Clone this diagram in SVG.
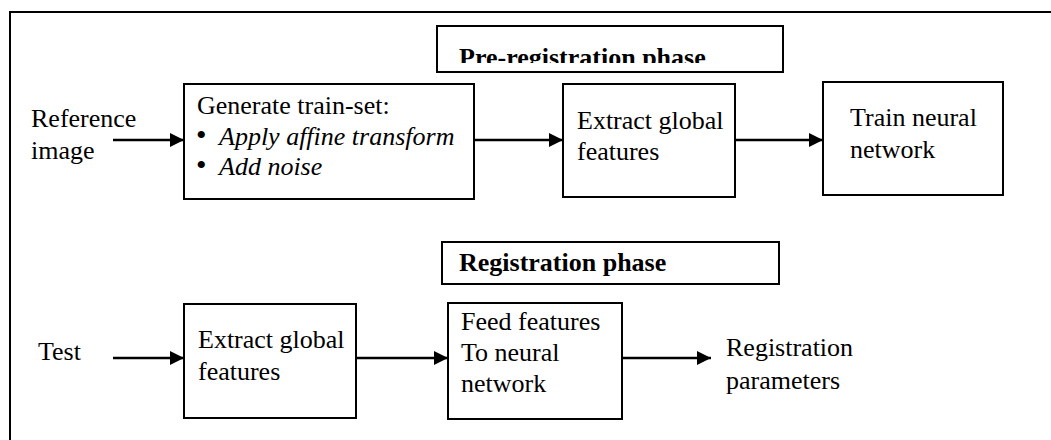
<svg xmlns="http://www.w3.org/2000/svg" width="1051" height="440" viewBox="0 0 1051 440">
  <style>
    .box { fill: #fff; stroke: #000; stroke-width: 2; }
    .edge { stroke: #000; stroke-width: 2.5; fill: none; marker-end: url(#arrow); }
  </style>
  <defs>
    <marker id="arrow" viewBox="0 0 14 14" refX="14" refY="7" markerWidth="14" markerHeight="14" markerUnits="userSpaceOnUse" orient="auto">
      <path d="M0,0 L14,7 L0,14 Z" fill="#000"/>
    </marker>
    <clipPath id="preClip">
      <rect x="438" y="27" width="344" height="36"/>
    </clipPath>
  </defs>

  <rect width="1051" height="440" fill="#fff"/>

  <!-- outer frame: only top and left edges are in view -->
  <path d="M10,440 L10,12 L1051,12" fill="none" stroke="#000" stroke-width="2"/>

  <g id="pre-registration-title">
    <rect class="box" x="437" y="26" width="346" height="46"/>
    <text font-family="Liberation Serif" font-size="26" font-weight="bold" x="459" y="66" clip-path="url(#preClip)">Pre-registration phase</text>
  </g>

  <g id="reference-image">
    <text font-family="Liberation Serif" font-size="26" x="31" y="127">Reference</text>
    <text font-family="Liberation Serif" font-size="26" x="31" y="159">image</text>
  </g>

  <g id="generate-train-set">
    <rect class="box" x="184" y="84" width="290" height="115"/>
    <text font-family="Liberation Serif" font-size="26" x="197" y="114">Generate train-set:</text>
    <text font-family="Liberation Serif" font-size="26" x="196" y="145"><tspan font-size="30">•</tspan><tspan x="219" font-style="italic">Apply affine transform</tspan></text>
    <text font-family="Liberation Serif" font-size="26" x="196" y="175"><tspan font-size="30">•</tspan><tspan x="219" font-style="italic">Add noise</tspan></text>
  </g>

  <g id="extract-features-train">
    <rect class="box" x="563" y="84" width="172" height="113"/>
    <text font-family="Liberation Serif" font-size="26" x="577" y="129">Extract global</text>
    <text font-family="Liberation Serif" font-size="26" x="577" y="160">features</text>
  </g>

  <g id="train-network">
    <rect class="box" x="823" y="82" width="180" height="113"/>
    <text font-family="Liberation Serif" font-size="26" x="850" y="126">Train neural</text>
    <text font-family="Liberation Serif" font-size="26" x="850" y="158">network</text>
  </g>

  <g id="registration-title">
    <rect class="box" x="442" y="242" width="337" height="42"/>
    <text font-family="Liberation Serif" font-size="26" font-weight="bold" x="459" y="271">Registration phase</text>
  </g>

  <g id="test-input">
    <text font-family="Liberation Serif" font-size="26" x="38" y="360">Test</text>
  </g>

  <g id="extract-features-test">
    <rect class="box" x="184" y="304" width="172" height="114"/>
    <text font-family="Liberation Serif" font-size="26" x="198" y="348">Extract global</text>
    <text font-family="Liberation Serif" font-size="26" x="198" y="380">features</text>
  </g>

  <g id="feed-network">
    <rect class="box" x="448" y="303" width="174" height="116"/>
    <text font-family="Liberation Serif" font-size="26" x="461" y="330">Feed features</text>
    <text font-family="Liberation Serif" font-size="26" x="461" y="361">To neural</text>
    <text font-family="Liberation Serif" font-size="26" x="461" y="392">network</text>
  </g>

  <g id="registration-output">
    <text font-family="Liberation Serif" font-size="26" x="726" y="356">Registration</text>
    <text font-family="Liberation Serif" font-size="26" x="726" y="389">parameters</text>
  </g>

  <g id="connectors">
    <line class="edge" x1="113" y1="140" x2="184" y2="140"/>
    <line class="edge" x1="474" y1="140" x2="563" y2="140"/>
    <line class="edge" x1="735" y1="140" x2="823" y2="140"/>
    <line class="edge" x1="113" y1="358" x2="184" y2="358"/>
    <line class="edge" x1="356" y1="358" x2="448" y2="358"/>
    <line class="edge" x1="622" y1="358" x2="711" y2="358"/>
  </g>
</svg>
